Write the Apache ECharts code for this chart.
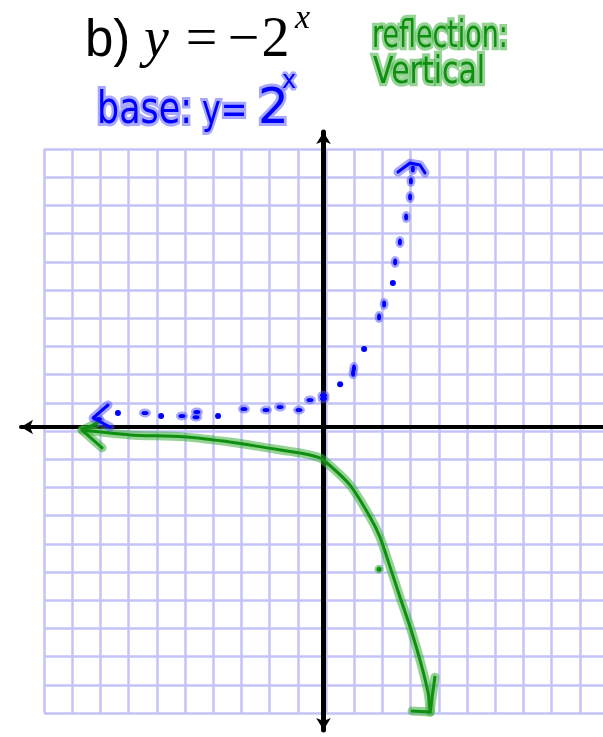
<!DOCTYPE html>
<html>
<head>
<meta charset="utf-8">
<script src="https://cdn.jsdelivr.net/npm/echarts@6/dist/echarts.min.js"></script>
<style>
  html, body { margin: 0; padding: 0; background: #ffffff; }
  #chart { width: 603px; height: 737px; }
</style>
</head>
<body>
<div id="chart"></div>
<script>
// Graph-paper extent in cells (one cell = one unit on both axes)
const paperMin = -10;
const paperMax = 10;
const paperStep = 1;

// Base function y = 2^x, sketched as a dotted line
const baseDots = [[-7.29, 0.50], [-5.76, 0.39], [-3.74, 0.39], [0.59, 1.52], [1.44, 2.77], [2.46, 5.11]];
const baseDabsFlat = [[-7.98, 0.28], [-6.33, 0.50], [-5.02, 0.39], [-4.49, 0.53], [-4.52, 0.35],
  [-2.82, 0.64], [-2.04, 0.60], [-1.54, 0.71], [-0.87, 0.60], [-0.48, 0.96], [0.0, 1.00], [0.0, 1.13]];
const baseDabsSteep = [[1.05, 1.91], [1.08, 2.09], [1.97, 3.90], [2.15, 4.36], [2.54, 5.85],
  [2.71, 6.56], [2.93, 7.45], [3.07, 8.16], [3.10, 8.72], [3.17, 9.15]];
const baseArrowLeft = [[-7.64, 0.78], [-8.17, 0.32], [-7.57, 0.00]];
const baseArrowTop = [[2.64, 9.04], [3.07, 9.36], [3.42, 9.29], [3.60, 9.01]];

// Reflected function y = -2^x
const reflCurve = [[-8.56, -0.11], [-6.86, -0.28], [-4.98, -0.35], [-3.20, -0.55], [-2.00, -0.74],
  [-0.83, -0.92], [-0.23, -1.06], [0.00, -1.17], [0.94, -2.06], [1.65, -3.19], [2.00, -3.90],
  [2.36, -4.96], [2.71, -6.03], [3.07, -7.09], [3.42, -8.26], [3.71, -9.43], [3.78, -10.11]];
const reflArrowLeft = [[-8.03, 0.14], [-8.56, -0.11], [-7.85, -0.74]];
const reflArrowDown = [[3.14, -10.07], [3.78, -10.11], [3.95, -8.87]];
const reflStray = [[1.97, -5.04]];

// Layout (pixels)
const CELL = 28.2;
const PAPER_LEFT = 44, PAPER_TOP = 149;
const OX = 323.5, OY = 427;             // where the drawn axes cross
const AX_LEFT = 21, AX_RIGHT = 603, AX_TOP = 132, AX_BOTTOM = 730;

const BLUE = '#0000ff', BLUE_HALO = 'rgba(80,80,255,0.5)';
const GREEN = '#0f8f0f', GREEN_HALO = 'rgba(60,175,60,0.55)';

function stroke(data, color, width, z, smooth) {
  return {
    type: 'line', xAxisIndex: 1, yAxisIndex: 1, data: data, z: z,
    showSymbol: false, symbol: 'none', smooth: smooth || 0, silent: true, clip: false,
    lineStyle: { color: color, width: width, cap: 'round', join: 'round' }
  };
}
function dots(data, color, size, z) {
  return {
    type: 'scatter', xAxisIndex: 1, yAxisIndex: 1, data: data, z: z,
    symbol: 'circle', symbolSize: size, silent: true, clip: false,
    itemStyle: { color: color, opacity: 1 }
  };
}

// Text piece anchored at its left (or centre) on the baseline
function piece(text, x, baseline, o) {
  const F = o.size;
  return {
    type: 'text', x: x, y: baseline, scaleX: o.sx || 1, scaleY: o.sy || 1, z: 20,
    style: {
      text: text, x: 0, y: -o.mid * F,
      font: (o.italic ? 'italic ' : '') + F + 'px ' + o.family,
      fill: o.color || '#000000',
      stroke: o.halo || null, lineWidth: o.halo ? (o.haloWidth || 5) : 0,
      textAlign: o.align || 'left', align: o.align || 'left',
      textVerticalAlign: 'middle', verticalAlign: 'middle'
    }
  };
}
const SERIF = { family: '"Liberation Serif"', mid: 0.3375, align: 'center' };
const HAND_B = { family: '"DejaVu Sans"', mid: 0.346, color: BLUE, halo: BLUE_HALO, haloWidth: 5 };
const HAND_G = { family: '"DejaVu Sans"', mid: 0.346, color: GREEN, halo: GREEN_HALO, haloWidth: 5 };

const chart = echarts.init(document.getElementById('chart'), null, { renderer: 'canvas' });

const hidden = { axisLabel: { show: false }, axisTick: { show: false }, axisLine: { show: false } };
const paperLine = { show: true, lineStyle: { color: '#c3c3f8', width: 2.5 } };

chart.setOption({
  animation: false,
  backgroundColor: '#ffffff',
  grid: [
    { left: PAPER_LEFT, top: PAPER_TOP, width: CELL * (paperMax - paperMin), height: CELL * (paperMax - paperMin),
      containLabel: false, outerBoundsMode: 'none' },
    { left: AX_LEFT, top: AX_TOP, width: AX_RIGHT - AX_LEFT, height: AX_BOTTOM - AX_TOP,
      containLabel: false, outerBoundsMode: 'none' }
  ],
  xAxis: [
    Object.assign({ type: 'value', gridIndex: 0, min: paperMin, max: paperMax, interval: paperStep,
      splitLine: paperLine }, hidden),
    { type: 'value', gridIndex: 1,
      min: -(OX - AX_LEFT) / CELL, max: (AX_RIGHT - OX) / CELL,
      splitLine: { show: false }, axisLabel: { show: false }, axisTick: { show: false },
      axisLine: { show: true, onZero: true, symbol: ['arrow', 'none'], symbolSize: [11, 12],
        lineStyle: { color: '#000000', width: 4 } } }
  ],
  yAxis: [
    Object.assign({ type: 'value', gridIndex: 0, min: paperMin, max: paperMax, interval: paperStep,
      splitLine: paperLine }, hidden),
    { type: 'value', gridIndex: 1,
      min: -(AX_BOTTOM - OY) / CELL, max: (OY - AX_TOP) / CELL,
      splitLine: { show: false }, axisLabel: { show: false }, axisTick: { show: false },
      axisLine: { show: true, onZero: true, symbol: ['arrow', 'arrow'], symbolSize: [11, 12],
        lineStyle: { color: '#000000', width: 5 } } }
  ],
  series: [
    // y = -2^x, highlighter pen: halo under a dark core
    stroke(reflCurve, GREEN_HALO, 9, 3, 0.25),
    stroke(reflArrowLeft, GREEN_HALO, 9, 3),
    stroke(reflArrowDown, GREEN_HALO, 9, 3),
    stroke(reflCurve, GREEN, 3, 4, 0.25),
    stroke(reflArrowLeft, GREEN, 3, 4),
    stroke(reflArrowDown, GREEN, 3, 4),
    dots(reflStray, GREEN_HALO, 9, 3),
    dots(reflStray, GREEN, 5, 4),
    // y = 2^x, dotted
    stroke(baseArrowLeft, BLUE_HALO, 9, 3),
    stroke(baseArrowTop, BLUE_HALO, 9, 3),
    stroke(baseArrowLeft, BLUE, 3, 4),
    stroke(baseArrowTop, BLUE, 3, 4),
    dots(baseDabsFlat, BLUE_HALO, [12, 9], 3),
    dots(baseDabsSteep, BLUE_HALO, [9, 12], 3),
    dots(baseDabsFlat, BLUE, [7, 4], 4),
    dots(baseDabsSteep, BLUE, [4, 7], 4),
    dots(baseDots, BLUE, 6, 4)
  ],
  graphic: [
    piece('b)', 85, 60, { family: '"Liberation Sans"', mid: 0.3465, size: 51 }),
    piece('y', 156.5, 60, Object.assign({}, SERIF, { size: 56, italic: true })),
    piece('=', 201.5, 60, Object.assign({}, SERIF, { size: 56 })),
    piece('\u2212', 243.5, 60, Object.assign({}, SERIF, { size: 56 })),
    piece('2', 275.5, 60, Object.assign({}, SERIF, { size: 56 })),
    piece('x', 302.5, 31, Object.assign({}, SERIF, { size: 34, italic: true })),

    piece('base:', 97, 127, Object.assign({}, HAND_B, { size: 36, sx: 0.97, sy: 1.22 })),
    piece('y=', 202, 127, Object.assign({}, HAND_B, { size: 36, sx: 0.88, sy: 1.15 })),
    piece('2', 258, 127, Object.assign({}, HAND_B, { size: 44, sx: 1.1, sy: 1.15 })),
    piece('x', 282, 90, Object.assign({}, HAND_B, { size: 24 })),

    piece('reflection:', 372, 50, Object.assign({}, HAND_G, { size: 28, sx: 0.96, sy: 1.3 })),
    piece('Vertical', 373, 86, Object.assign({}, HAND_G, { size: 28, sx: 1.07, sy: 1.3 }))
  ]
});
</script>
</body>
</html>
